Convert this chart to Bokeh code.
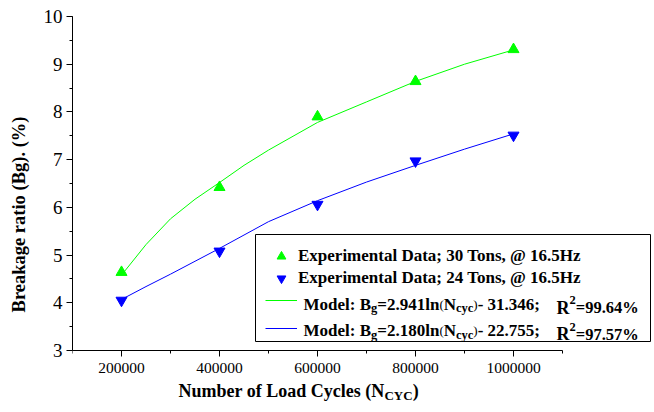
from bokeh.plotting import figure
from bokeh.models import (SingleIntervalTicker, BasicTickFormatter, Range1d, Label,
                          BoxAnnotation, Legend, LegendItem)
from bokeh.embed import file_html
from bokeh.resources import INLINE

# ---------------- data ----------------
cycles = [200000, 400000, 600000, 800000, 1000000]
bg_30t = [4.64, 6.42, 7.90, 8.64, 9.31]
bg_24t = [4.05, 5.08, 6.06, 6.97, 7.51]

model_cycles = [200000, 250000, 300000, 350000, 400000, 450000, 500000, 600000, 700000,
                800000, 900000, 1000000]
model_30t = [4.58, 5.22, 5.76, 6.17, 6.52, 6.88, 7.20, 7.78, 8.21, 8.64, 9.00, 9.30]
model_24t = [4.07, 4.34, 4.60, 4.87, 5.14, 5.42, 5.70, 6.14, 6.53, 6.88, 7.22, 7.54]

exp_labels = ["Experimental Data; 30 Tons, @ 16.5Hz", "Experimental Data; 24 Tons, @ 16.5Hz"]
model_30_text = [("Model: B", "g", "=2.941ln", "N", "cyc", "- 31.346;"), "99.64%"]
model_24_text = [("Model: B", "g", "=2.180ln", "N", "cyc", "- 22.755;"), "97.57%"]
y_title = "Breakage ratio (Bg). (%)"
x_title = ("Number of Load Cycles (N", "CYC", ")")
x_axis_span = (100000, 1100000)
y_axis_span = (3, 10)

# ---------------- layout ----------------
W, H = 654, 412
FL, FT = 72, 16            # frame left / top (canvas px)
AX_R, AX_B = 562, 350      # where the axes end (canvas px)
SERIF = "Liberation Serif"
GREEN, BLUE = "#00ff00", "#0000ff"

# pixel scale so that the axes span AX_R-FL and AX_B-FT pixels
xpp = (x_axis_span[1] - x_axis_span[0]) / (AX_R - FL)
ypp = (y_axis_span[1] - y_axis_span[0]) / (AX_B - FT)
x_end = x_axis_span[0] + (W - FL) * xpp
y_start = y_axis_span[0] - (H - AX_B) * ypp

# Times-Bold advance widths (per 1000 em)
TB = {' ': 250, '%': 1000, '(': 333, ')': 333, ',': 250, '-': 333, '.': 250, ':': 333, ';': 333,
      '=': 570, '@': 930, 'B': 667, 'C': 722, 'D': 722, 'E': 667, 'H': 778, 'L': 667, 'M': 944,
      'N': 722, 'R': 722, 'T': 667, 'Y': 722, 'a': 500, 'b': 556, 'c': 444, 'd': 556, 'e': 444,
      'f': 333, 'g': 500, 'i': 278, 'l': 278, 'm': 833, 'n': 556, 'o': 500, 'p': 556, 'r': 444,
      's': 389, 't': 333, 'u': 556, 'x': 500, 'y': 500, 'z': 444}


def tw(s, size):
    return sum(TB.get(c, 500) for c in s) * size / 1000.0


p = figure(width=W, height=H, output_backend="svg", toolbar_location=None,
           x_range=Range1d(x_axis_span[0], x_end), y_range=Range1d(y_start, y_axis_span[1]),
           min_border_left=FL, min_border_right=0, min_border_top=FT, min_border_bottom=0)
p.outline_line_color = None
p.xgrid.grid_line_color = None
p.ygrid.grid_line_color = None
p.background_fill_color = "white"
p.border_fill_color = "white"

p.xaxis.ticker = SingleIntervalTicker(interval=200000, num_minor_ticks=2)
p.xaxis.formatter = BasicTickFormatter(use_scientific=False)
p.xaxis.bounds = x_axis_span
p.xaxis.fixed_location = y_axis_span[0]
p.yaxis.ticker = SingleIntervalTicker(interval=1, num_minor_ticks=2)
p.yaxis.bounds = y_axis_span

for ax in (p.xaxis[0], p.yaxis[0]):
    ax.axis_line_color = "black"
    ax.axis_line_width = 1
    ax.major_tick_line_color = "black"
    ax.minor_tick_line_color = "black"
    ax.major_tick_in = 0
    ax.major_tick_out = 6
    ax.minor_tick_in = 0
    ax.minor_tick_out = 3
    ax.major_label_text_font = SERIF
    ax.major_label_text_color = "black"
    ax.major_label_standoff = 4

p.xaxis.major_label_standoff = 6
p.xaxis.major_label_text_font_size = "15.5px"
p.yaxis.major_label_text_font_size = "19px"

p.yaxis.axis_label = y_title
p.yaxis.axis_label_text_font = SERIF
p.yaxis.axis_label_text_font_style = "bold"
p.yaxis.axis_label_text_font_size = "18.5px"
p.yaxis.axis_label_text_color = "black"
p.yaxis.axis_label_standoff = 12

# ---------------- data glyphs ----------------
l30 = p.line(model_cycles, model_30t, line_color=GREEN, line_width=1)
l24 = p.line(model_cycles, model_24t, line_color=BLUE, line_width=1)
s30 = p.scatter(cycles, bg_30t, marker="triangle", size=11, fill_color=GREEN, line_color=GREEN)
s24 = p.scatter(cycles, bg_24t, marker="inverted_triangle", size=11, fill_color=BLUE, line_color=BLUE)

FB = H  # frame bottom in canvas px


def sx(x):
    return x - FL


def sy(y):
    return FB - y


def rich(x, baseline, segs):
    for text, size, bold, dy in segs:
        p.add_layout(Label(x=sx(x), y=sy(baseline + dy), x_units="screen", y_units="screen",
                           text=text, text_font=SERIF, text_font_size=f"{size}px",
                           text_font_style="bold" if bold else "normal",
                           text_baseline="alphabetic", text_align="left", text_color="black"))
        x += tw(text, size)
    return x


# ---------------- legend ----------------
box = BoxAnnotation(left=sx(255), right=sx(650), top=sy(234), bottom=sy(341),
                    left_units="screen", right_units="screen", top_units="screen",
                    bottom_units="screen", fill_color="white", fill_alpha=1.0,
                    line_color="black", line_width=1, line_alpha=1.0)
p.add_layout(box)

leg_a = Legend(items=[LegendItem(label=exp_labels[0], renderers=[s30]),
                      LegendItem(label=exp_labels[1], renderers=[s24])],
               location=(sx(265), sy(289)), orientation="vertical", padding=0, margin=0,
               spacing=0, glyph_width=32, glyph_height=22, label_height=22, label_standoff=1,
               label_text_font=SERIF, label_text_font_style="bold", label_text_font_size="17px",
               label_text_color="black", border_line_alpha=0, background_fill_alpha=0)
p.add_layout(leg_a)

leg_b = Legend(items=[LegendItem(label=" ", renderers=[l30]),
                      LegendItem(label=" ", renderers=[l24])],
               location=(sx(265), sy(342)), orientation="vertical", padding=0, margin=0,
               spacing=0, glyph_width=32, glyph_height=28, label_height=28, label_standoff=1,
               label_text_font=SERIF, label_text_font_size="17px",
               border_line_alpha=0, background_fill_alpha=0)
p.add_layout(leg_b)

for (parts, r2), base in ((model_30_text, 303.5), (model_24_text, 330.0)):
    a, sub1, b, n, sub2, c = parts
    rich(303, base, [(a, 17, True, 0), (sub1, 12.5, True, 4), (b, 17, True, 0),
                     ("(", 13, False, 0), (n, 17, True, 0), (sub2, 12.5, True, 4),
                     (")", 13, False, 0), (c, 17, True, 0)])
    rich(556, base + 3.5, [("R", 18, True, 0), ("2", 12.5, True, -7.5), ("=" + r2, 16.5, True, 0)])

# ---------------- x-axis title with subscript ----------------
rich(178, 390, [(x_title[0], 18, True, 0), (x_title[1], 13, True, 5), (x_title[2], 18, True, 0)])

open("out.html", "w").write(file_html(p, INLINE))
